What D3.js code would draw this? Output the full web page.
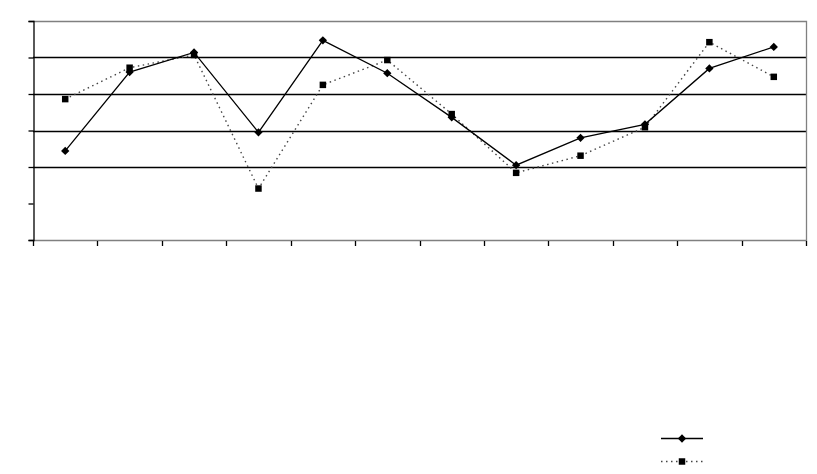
<!DOCTYPE html>
<html>
<head>
<meta charset="utf-8">
<script src="https://cdn.jsdelivr.net/npm/d3@7"></script>
<style>
  body { margin: 0; background: #fff; }
  svg { display: block; }
</style>
</head>
<body>
<div id="chart"></div>
<script>
// categories have no visible labels in the reference
var categories = [1, 2, 3, 4, 5, 6, 7, 8, 9, 10, 11, 12];
var seriesA = [2.44, 4.60, 5.14, 2.95, 5.47, 4.57, 3.36, 2.05, 2.80, 3.17, 4.70, 5.29];
var seriesB = [3.86, 4.72, 5.07, 1.41, 4.25, 4.93, 3.45, 1.84, 2.31, 3.09, 5.42, 4.47];
var yTicks = [0, 1, 2, 3, 4, 5, 6];
var gridValues = [2, 3, 4, 5];

var width = 817, height = 474;
var plot = {left: 33, right: 806, top: 21, bottom: 240};

var svg = d3.select('#chart').append('svg')
    .attr('width', width)
    .attr('height', height);

var x = d3.scaleBand()
    .domain(categories)
    .range([plot.left, plot.right]);

var y = d3.scaleLinear()
    .domain([0, 6])
    .range([plot.bottom, plot.top]);

// gridlines
svg.append('g').selectAll('line')
    .data(gridValues)
    .enter().append('line')
    .attr('x1', plot.left).attr('x2', plot.right)
    .attr('y1', function(d) { return Math.round(y(d)) + 0.5; })
    .attr('y2', function(d) { return Math.round(y(d)) + 0.5; })
    .attr('stroke', '#000')
    .attr('stroke-width', 1.3);

// gray frame (top, right, bottom)
svg.append('path')
    .attr('d', 'M' + plot.left + ',' + (plot.top + 0.5) + 'H' + (plot.right + 0.5) +
               'V' + (plot.bottom + 0.5) + 'H' + plot.left)
    .attr('fill', 'none')
    .attr('stroke', '#808080')
    .attr('stroke-width', 1.3);

// y axis
var yAxis = d3.axisLeft(y).tickValues(yTicks).tickSize(5).tickFormat('');
svg.append('g')
    .attr('transform', 'translate(' + (plot.left + 0.5) + ',0)')
    .call(yAxis)
    .call(function(g) {
      g.select('.domain').attr('stroke', '#000').attr('stroke-width', 1.3);
      g.selectAll('.tick line').attr('stroke', '#000').attr('stroke-width', 1.3);
    });

// x axis ticks at band boundaries
var xBounds = categories.map(function(c) { return x(c); }).concat([plot.right]);
svg.append('g').selectAll('line')
    .data(xBounds)
    .enter().append('line')
    .attr('x1', function(d) { return Math.round(d) + 0.5; })
    .attr('x2', function(d) { return Math.round(d) + 0.5; })
    .attr('y1', plot.bottom + 1)
    .attr('y2', plot.bottom + 6)
    .attr('stroke', '#000')
    .attr('stroke-width', 1.3);

var cx = function(d, i) { return x(categories[i]) + x.bandwidth() / 2; };
var line = d3.line()
    .x(function(d, i) { return cx(d, i); })
    .y(function(d) { return y(d); });

// dotted series
svg.append('path')
    .datum(seriesB)
    .attr('d', line)
    .attr('fill', 'none')
    .attr('stroke', '#444')
    .attr('stroke-width', 1.4)
    .attr('stroke-dasharray', '1.5,3.5');

// solid series
svg.append('path')
    .datum(seriesA)
    .attr('d', line)
    .attr('fill', 'none')
    .attr('stroke', '#000')
    .attr('stroke-width', 1.3);

var square = d3.symbol().type(d3.symbolSquare).size(42);
var diamond = d3.symbol().type(d3.symbolDiamond2).size(44);

svg.append('g').selectAll('path')
    .data(seriesB)
    .enter().append('path')
    .attr('d', square)
    .attr('transform', function(d, i) { return 'translate(' + cx(d, i) + ',' + y(d) + ')'; })
    .attr('fill', '#000');

svg.append('g').selectAll('path')
    .data(seriesA)
    .enter().append('path')
    .attr('d', diamond)
    .attr('transform', function(d, i) { return 'translate(' + cx(d, i) + ',' + y(d) + ')'; })
    .attr('fill', '#000');

// legend
var legend = svg.append('g').attr('transform', 'translate(661,438)');
legend.append('line')
    .attr('x1', 0).attr('x2', 42).attr('y1', 0.5).attr('y2', 0.5)
    .attr('stroke', '#000').attr('stroke-width', 1.3);
legend.append('path')
    .attr('d', diamond)
    .attr('transform', 'translate(21,0.5)')
    .attr('fill', '#000');
legend.append('line')
    .attr('x1', 0).attr('x2', 42).attr('y1', 23.5).attr('y2', 23.5)
    .attr('stroke', '#444').attr('stroke-width', 1.4)
    .attr('stroke-dasharray', '1.5,3.5');
legend.append('path')
    .attr('d', square)
    .attr('transform', 'translate(21,23.5)')
    .attr('fill', '#000');
</script>
</body>
</html>
